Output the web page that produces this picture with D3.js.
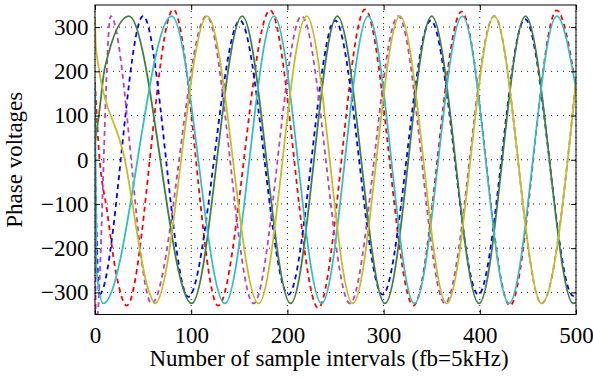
<!DOCTYPE html>
<html>
<head>
<meta charset="utf-8">
<script src="https://cdn.jsdelivr.net/npm/d3@7"></script>
<style>
body { margin: 0; background: #fff; }
text { font-family: "Liberation Serif", "Times New Roman", serif; fill: #000; }
</style>
</head>
<body>
<svg id="chart" width="593" height="380"></svg>
<script>
// Each trace is given by its turning points [sample, voltage].

var redDashed = [[0,176],[3.4,41],[12.8,-120],[22.5,-263],[33,-330],[81.4,340],[128,-330],[182,338],
	[232,-335],[280.7,340],[331,-330],[381,335],[431.4,-330],[480,338],[500,165]];
var blueDashed = [[0,0],[4.5,-305],[50,325],[97,-310],[150.7,315],[201,-305],[249.5,315],[299,-305],
	[349,315],[398.5,-305],[447,318],[497,-308],[500,-305]];
var magentaDashed = [[0,0],[1,-380],[16.3,325],[58.9,-325],[116,325],[164.8,-325],[214.8,325],[265,-325],
	[315.3,325],[363.8,-325],[415,325],[464.3,-325],[500,180]];

var greenSolid = [[0,40],[4,100],[10.4,210],[35.3,325],[100.5,-325],[153,325],[203.4,-325],[251.9,325],
	[301.5,-325],[350,325],[399.2,-325],[447.5,325],[497.2,-325],[500,-323]];
var cyanSolid = [[0,173],[1.5,-250],[8.7,-325],[79.7,325],[135,-325],[186,325],[235.6,-325],[284,325],
	[332,-325],[381.8,325],[430.4,-325],[480,325],[500,160]];
var yellowSolid = [[0,322],[1,250],[31,0],[55,-290],[62.4,-325],[116.7,325],[170,-325],[220,325],
	[268,-325],[317,325],[365.6,-325],[415,325],[464.4,-325],[500,176]];

var xTicks = [0, 100, 200, 300, 400, 500];
var yTicks = [-300, -200, -100, 0, 100, 200, 300];

var margin = {top: 5, right: 17, bottom: 65.5, left: 95};
var width = 593 - margin.left - margin.right,
	height = 380 - margin.top - margin.bottom,
	tickLen = 5,
	serif = "Liberation Serif, Times New Roman, serif";

var svg = d3.select("#chart");
svg.append("rect").attr("width", 593).attr("height", 380).style("fill", "#fff");

var chart = svg.append("g")
	.attr("transform", "translate(" + margin.left + "," + margin.top + ")");

var x = d3.scaleLinear().domain([0, 500]).range([0, width]);
var y = d3.scaleLinear().domain([-350, 350]).range([height, 0]);

// dotted grid
chart.selectAll(".gx")
	.data(xTicks)
.enter().append("line")
	.attr("x1", function(d) { return x(d); })
	.attr("x2", function(d) { return x(d); })
	.attr("y1", 0)
	.attr("y2", height)
	.style("stroke", "#000")
	.style("stroke-width", 0.9)
	.style("stroke-dasharray", "1,5");

chart.selectAll(".gy")
	.data(yTicks)
.enter().append("line")
	.attr("x1", 0)
	.attr("x2", width)
	.attr("y1", function(d) { return y(d); })
	.attr("y2", function(d) { return y(d); })
	.style("stroke", "#000")
	.style("stroke-width", 0.9)
	.style("stroke-dasharray", "1,5");

// traces
chart.append("clipPath")
	.attr("id", "clip")
.append("rect")
	.attr("width", width)
	.attr("height", height);

var line = d3.line()
	.x(function(d) { return x(d[0]); })
	.y(function(d) { return y(d[1]); })
	.curve(d3.curveMonotoneX);

var traces = [
	{data: redDashed, color: "#ff0000", dash: "5,4"},
	{data: blueDashed, color: "#0000ff", dash: "5,4"},
	{data: magentaDashed, color: "#bf40bf", dash: "5,4"},
	{data: greenSolid, color: "#3f7f3f", dash: null},
	{data: cyanSolid, color: "#33bfbf", dash: null},
	{data: yellowSolid, color: "#bfbf26", dash: null}
];

chart.append("g")
	.attr("clip-path", "url(#clip)")
	.selectAll("path")
	.data(traces)
.enter().append("path")
	.attr("d", function(d) { return line(d.data); })
	.style("fill", "none")
	.style("stroke", function(d) { return d.color; })
	.style("stroke-width", 1.8)
	.style("stroke-dasharray", function(d) { return d.dash; });

// axes, ticks pointing inwards
var xAxis = d3.axisBottom(x).tickValues(xTicks).tickSizeInner(-tickLen).tickSizeOuter(0).tickPadding(12);
var yAxis = d3.axisLeft(y).tickValues(yTicks).tickSizeInner(-tickLen).tickSizeOuter(0).tickPadding(6.5);
var xTop = d3.axisTop(x).tickValues(xTicks).tickSizeInner(-tickLen).tickSizeOuter(0).tickFormat("");
var yRight = d3.axisRight(y).tickValues(yTicks).tickSizeInner(-tickLen).tickSizeOuter(0).tickFormat("");

chart.append("g").attr("transform", "translate(0," + height + ")").call(xAxis);
chart.append("g").call(yAxis);
chart.append("g").call(xTop);
chart.append("g").attr("transform", "translate(" + width + ",0)").call(yRight);

chart.selectAll(".domain").remove();
chart.selectAll(".tick").each(function() {
	d3.select(this.parentNode).attr("font-family", serif).attr("font-size", 23);
});
chart.selectAll(".tick line").style("stroke", "#000").style("stroke-width", 1);
chart.selectAll(".tick text").attr("fill", "#000");

chart.append("rect")
	.attr("width", width)
	.attr("height", height)
	.style("fill", "none")
	.style("stroke", "#000")
	.style("stroke-width", 1);

// labels
svg.append("text")
	.attr("x", 329)
	.attr("y", 366)
	.attr("font-family", serif)
	.attr("font-size", 23)
	.style("text-anchor", "middle")
	.text("Number of sample intervals (fb=5kHz)");

svg.append("text")
	.attr("transform", "translate(22," + (margin.top + height / 2) + ") rotate(-90)")
	.attr("font-family", serif)
	.attr("font-size", 23)
	.style("text-anchor", "middle")
	.text("Phase voltages");
</script>
</body>
</html>
